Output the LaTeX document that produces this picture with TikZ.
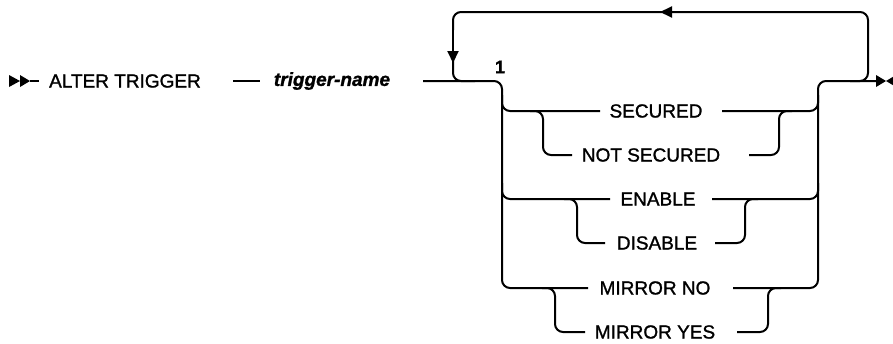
\documentclass[tikz,border=0pt]{standalone}
\usepackage{fontspec}
\setmainfont[FakeBold=1.3]{Liberation Sans}
\usetikzlibrary{arrows.meta}
\begin{document}
\begin{tikzpicture}[x=1pt,y=-1pt,
  rail/.style={line width=2pt, rounded corners=8pt},
  kw/.style={font=\fontsize{19}{22}\selectfont, inner sep=0pt, anchor=center},
  var/.style={font=\fontsize{19}{22}\selectfont\bfseries\itshape, inner sep=0pt},
  num/.style={font=\fontsize{18}{20}\selectfont\bfseries, inner sep=0pt},
  tip/.style={-{Triangle[length=12pt,width=11pt]}}]
\useasboundingbox (0,0) rectangle (893,343);
% texts
\node[kw] (alter) at (125,81) {ALTER TRIGGER};
\node[var] (tname) at (332,81) {trigger-name};
\node[num] (one) at (500,67) {1};
\node[kw] (sec) at (656,111) {SECURED};
\node[kw] (nsec) at (651,155) {NOT SECURED};
\node[kw] (ena) at (658,199) {ENABLE};
\node[kw] (dis) at (657,243) {DISABLE};
\node[kw] (mno) at (655,288) {MIRROR NO};
\node[kw] (myes) at (655,332) {MIRROR YES};
% start marker
\coordinate (s0) at (9,81);
\coordinate (s1) at (20,81);
\coordinate (s2) at (30,81);
\coordinate (s3) at (39,81);
\fill (s0) ++(0,-6) -- (s1) -- ++(-11,6) -- cycle;
\fill (s1) ++(0,-6) -- (s2) -- ++(-10,6) -- cycle;
\draw[rail] (s2) -- (s3);
% trigger-name
\draw[rail] (233,81) -- (260,81);
% main into branch
\coordinate (bl) at (502,81);
\coordinate (br) at (818,81);
\draw[rail] (423,81) -- (bl) -- (502,288) -- (588,288);
\draw[rail] (733,288) -- (818,288) -- (br) -- (877,81);
% end marker
\coordinate (e1) at (876,81);
\coordinate (e2) at (886,81);
\coordinate (e3) at (896,81);
\fill (e1) ++(0,-6) -- (e2) -- ++(-10,6) -- cycle;
\fill (e3) ++(0,-6) -- (e2) -- ++(10,6) -- cycle;
% repeat loop
\draw[rail,tip] (850,81) -- (868,81) -- (868,12) -- (660,12);
\draw[rail] (662,12) -- (453,12) -- (453,30);
\draw[rail,tip] (453,28) -- (453,63);
\draw[rail] (453,60) -- (453,81) -- (475,81);
% SECURED / NOT SECURED
\draw[rail] (502,95) -- (502,111) -- (600,111);
\draw[rail] (722,111) -- (818,111) -- (818,95);
\draw[rail] (530,111) -- (543,111) -- (543,155) -- (572,155);
\draw[rail] (749,155) -- (779,155) -- (779,111) -- (792,111);
% ENABLE / DISABLE
\draw[rail] (502,183) -- (502,199) -- (610,199);
\draw[rail] (712,199) -- (818,199) -- (818,183);
\draw[rail] (564,199) -- (577,199) -- (577,243) -- (605,243);
\draw[rail] (715,243) -- (745,243) -- (745,199) -- (758,199);
% MIRROR NO / MIRROR YES
\draw[rail] (542,288) -- (555,288) -- (555,332) -- (585,332);
\draw[rail] (737,332) -- (768,332) -- (768,288) -- (781,288);
\end{tikzpicture}
\end{document}
